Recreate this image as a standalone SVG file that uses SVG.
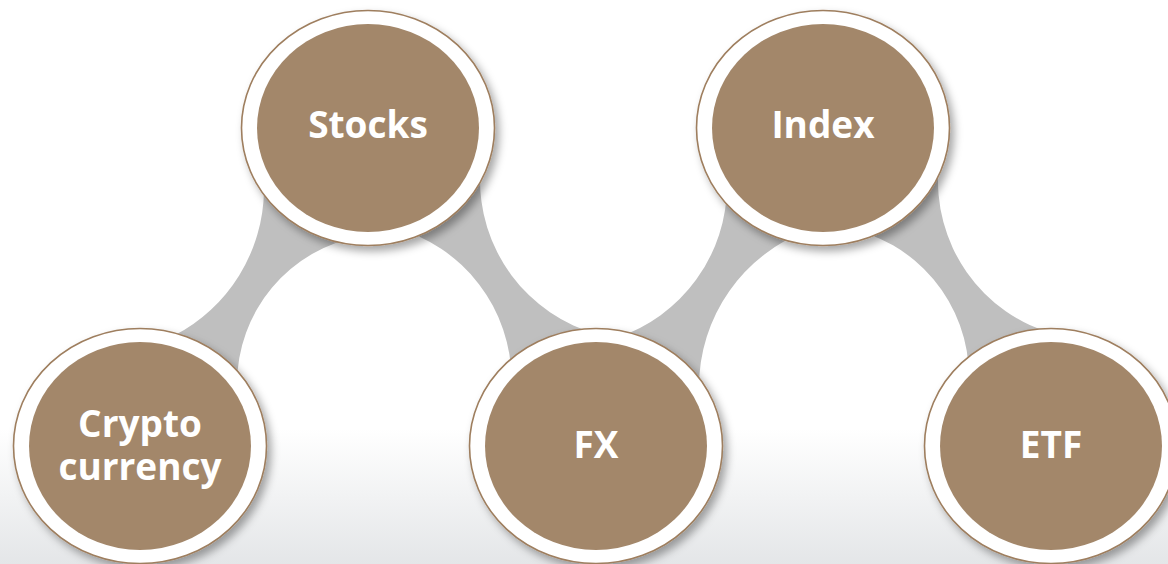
<svg xmlns="http://www.w3.org/2000/svg" width="1168" height="564" viewBox="0 0 1168 564">
<defs>
<style>
.ring{fill:#ffffff;stroke:#9E7E5E;stroke-width:1.6}
.core{fill:#A3876A}
.band{fill:#BFBFBF}
.lbl{font-family:"Open Sans","Liberation Sans",sans-serif;font-weight:700;font-size:37px;fill:#ffffff;text-anchor:middle}
</style>
<filter id="sh" x="-20%" y="-20%" width="150%" height="150%">
<feDropShadow dx="4" dy="5" stdDeviation="4" flood-color="#000000" flood-opacity="0.35"/>
</filter>
<linearGradient id="bg" x1="0" y1="0" x2="0" y2="1">
<stop offset="0" stop-color="#ffffff"/>
<stop offset="0.76" stop-color="#ffffff"/>
<stop offset="1" stop-color="#e4e6e8"/>
</linearGradient>
</defs>
<rect x="0" y="0" width="1168" height="564" fill="url(#bg)"/>
<g id="connectors">
<path class="band" d="M140,446 L174.6,335.3 A166,166 0 0 0 264,190.9 L368,128 L361,236.3 A150,150 0 0 0 237,384 Z"/>
<path class="band" d="M368,128 L480.1,174.4 A160,160 0 0 0 598.6,334.5 L596,446 L511.5,380 A157.5,157.5 0 0 0 394.8,227.9 Z"/>
<path class="band" d="M596,446 L615.8,338.1 A161,161 0 0 0 727,185 L823,128 L808.9,230.1 A167,167 0 0 0 699,387 Z"/>
<path class="band" d="M823,128 L938.6,167.1 A159,159 0 0 0 1055.8,334.6 L1051,446 L969,377 A152,152 0 0 0 843.4,227.3 Z"/>
</g>
<g id="node-crypto">
<ellipse class="ring" cx="140" cy="446" rx="126.5" ry="117.5" filter="url(#sh)"/>
<ellipse class="core" cx="140" cy="446" rx="111" ry="104"/>
<text class="lbl" x="140" y="437">Crypto</text>
<text class="lbl" x="140" y="480">currency</text>
</g>
<g id="node-stocks">
<ellipse class="ring" cx="368" cy="128" rx="126.5" ry="117.5" filter="url(#sh)"/>
<ellipse class="core" cx="368" cy="128" rx="111" ry="104"/>
<text class="lbl" x="368" y="138">Stocks</text>
</g>
<g id="node-fx">
<ellipse class="ring" cx="596" cy="446" rx="126.5" ry="117.5" filter="url(#sh)"/>
<ellipse class="core" cx="596" cy="446" rx="111" ry="104"/>
<text class="lbl" x="596" y="458">FX</text>
</g>
<g id="node-index">
<ellipse class="ring" cx="823" cy="128" rx="126.5" ry="117.5" filter="url(#sh)"/>
<ellipse class="core" cx="823" cy="128" rx="111" ry="104"/>
<text class="lbl" x="823" y="138">Index</text>
</g>
<g id="node-etf">
<ellipse class="ring" cx="1051" cy="446" rx="126.5" ry="117.5" filter="url(#sh)"/>
<ellipse class="core" cx="1051" cy="446" rx="111" ry="104"/>
<text class="lbl" x="1051" y="458">ETF</text>
</g>
</svg>
